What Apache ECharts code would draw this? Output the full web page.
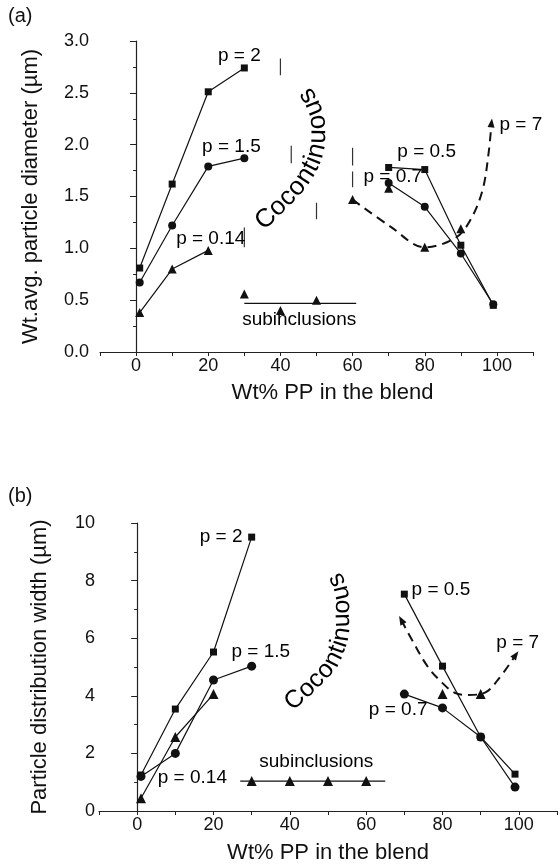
<!DOCTYPE html>
<html>
<head>
<meta charset="utf-8">
<script src="https://cdn.jsdelivr.net/npm/echarts@6/dist/echarts.min.js"></script>
<style>
html,body{margin:0;padding:0;background:#fff;}
#chart{width:560px;height:865px;}
</style>
</head>
<body>
<div id="chart"></div>
<script>
// ---------- data : panel (a) weight-average particle diameter ----------
const xTicks = [0, 20, 40, 60, 80, 100];
const p2A   = [[1,0.81],[10,1.62],[20,2.51],[30,2.74]];
const p15A  = [[1,0.67],[10,1.22],[20,1.79],[30,1.87]];
const p014A = [[1,0.38],[10,0.80],[20,0.98]];
const subA  = [[30,0.56],[40,0.40],[50,0.50]];
const subLineA = [[30,0.47],[61,0.47]];
const p05A  = [[70,1.78],[80,1.76],[90,1.03],[99,0.45]];
const p07A  = [[70,1.63],[80,1.40],[90,0.95],[99,0.46]];
const p7A   = [[60,1.47],[70,1.58],[80,1.01],[90,1.19]];
const p7TrendA = [[60,1.47],[70.5,1.21],[80,1.01],[88.5,1.10],[92.6,1.27],[96,1.56],[97.7,1.92],[98.5,2.21]];
const boundaryA = [
  [[30,1.20],[30,1.01]],
  [[40,2.83],[40,2.67]],
  [[43,1.99],[43,1.82]],
  [[50,1.44],[50,1.28]],
  [[60,1.97],[60,1.80]],
  [[60,1.74],[60,1.59]]
];
// ---------- data : panel (b) particle distribution width ----------
const p2B   = [[1,1.25],[10,3.54],[20,5.52],[30,9.51]];
const p15B  = [[1,1.20],[10,2.00],[20,4.55],[30,5.03]];
const p014B = [[1,0.44],[10,2.57],[20,4.06]];
const subB  = [[30,1.04],[40,1.04],[50,1.04],[60,1.04]];
const subLineB = [[27,1.04],[65,1.04]];
const p05B  = [[70,7.53],[80,5.03],[90,2.57],[99,1.28]];
const p07B  = [[70,4.06],[80,3.58],[90,2.57],[99,0.83]];
const p7B   = [[80,4.06],[90,4.06]];
const p7TrendB = [[69.2,6.63],[72.3,5.87],[76.2,5.0],[80,4.44],[83.2,4.1],[86.6,4.03],[91,4.1],[94.5,4.55],[99.2,5.42]];

// ---------- annotation texts ----------
const labelsA = [
  {text:'p = 2',    at:[22.7,2.86], align:'left'},
  {text:'p = 1.5',  at:[18.3,1.98], align:'left'},
  {text:'p = 0.14', at:[11.1,1.09], align:'left'},
  {text:'p = 0.5',  at:[72.4,1.93], align:'left'},
  {text:'p = 0.7',  at:[63.0,1.69], align:'left'},
  {text:'p = 7',    at:[100.7,2.19], align:'left'},
  {text:'subinclusions', at:[29.4,0.31], align:'left'}
];
const labelsB = [
  {text:'p = 2',    at:[27.6,9.51], align:'right'},
  {text:'p = 1.5',  at:[24.7,5.52], align:'left'},
  {text:'p = 0.14', at:[5.4,1.15], align:'left'},
  {text:'p = 0.5',  at:[71.9,7.67], align:'left'},
  {text:'p = 7',    at:[94.1,5.83], align:'left'},
  {text:'p = 0.7',  at:[60.7,3.51], align:'left'},
  {text:'subinclusions', at:[32.0,1.70], align:'left'}
];
const arcWord = 'Cocontinuous';
// pixel guide paths for the curved word (annotation layout)
const arcPathA = [[266,219],[282,203],[298,186],[311,166],[317,148],[318,130],[316,114],[309,98],[300,86],[292,78]];
const arcPathB = [[295,700],[309,687],[323,673],[332,662],[338,648],[342,633],[342,615],[342,597],[338,583],[332,572],[326,564]];

const FONT = "'Liberation Sans', Arial, Helvetica, sans-serif";
const INK = '#111';

function mkX(idx, gap, shift, lblMargin) {
  return {
    type:'value', gridIndex:idx, min:-10, max:110, interval:10,
    axisLine:{show:true, lineStyle:{color:'#222', width:1.2}},
    axisTick:{show:true, inside:false, length:4, lineStyle:{color:'#222', width:1}},
    splitLine:{show:false},
    axisLabel:{fontSize:18, color:INK, fontFamily:FONT, margin:lblMargin,
      formatter: v => xTicks.indexOf(v) >= 0 ? String(v) : ''},
    name:'Wt% PP in the blend', nameLocation:'middle', nameGap:gap,
    nameTextStyle:{fontSize:22, color:INK, fontFamily:FONT, padding:[0,0,0,shift]}
  };
}
function mkY(idx, max, interval, digits, name, gap, lblMargin) {
  return {
    type:'value', gridIndex:idx, min:0, max:max, interval:interval,
    axisLine:{show:true, lineStyle:{color:'#222', width:1.2}},
    axisTick:{show:true, inside:false, length:6, lineStyle:{color:'#222', width:1}},
    minorTick:{show:true, splitNumber:2, length:3, lineStyle:{color:'#222', width:1}},
    splitLine:{show:false},
    axisLabel:{fontSize:18, color:INK, fontFamily:FONT, margin:lblMargin,
      formatter: v => v.toFixed(digits)},
    name:name, nameLocation:'middle', nameGap:gap, nameRotate:90,
    nameTextStyle:{fontSize:22, color:INK, fontFamily:FONT}
  };
}
function ser(data, sym, size, gi, extra) {
  return Object.assign({
    type:'line', xAxisIndex:gi, yAxisIndex:gi, data:data,
    symbol:sym, symbolSize:size, showAllSymbol:true,
    lineStyle:{color:INK, width:1.2}, itemStyle:{color:INK, opacity:1},
    silent:true, z:3
  }, extra || {});
}
function scat(data, sym, size, gi) {
  return {type:'scatter', xAxisIndex:gi, yAxisIndex:gi, data:data, symbol:sym,
    symbolSize:size, itemStyle:{color:INK, opacity:1}, silent:true, z:4};
}
function trend(data, gi, startRot, endRot) {
  const d = data.map((p, i) => {
    if (i === data.length - 1) return {value:p, symbol:'triangle', symbolSize:[7,9], symbolRotate:endRot};
    if (i === 0 && startRot !== null) return {value:p, symbol:'triangle', symbolSize:[7,9], symbolRotate:startRot};
    return {value:p, symbol:'none'};
  });
  return {type:'line', xAxisIndex:gi, yAxisIndex:gi, data:d, smooth:0.35,
    showAllSymbol:true, lineStyle:{color:INK, width:2, type:[9,6]},
    itemStyle:{color:INK, opacity:1}, silent:true, z:2};
}
function labels(list, gi) {
  return {type:'scatter', xAxisIndex:gi, yAxisIndex:gi, symbolSize:1,
    itemStyle:{color:'rgba(0,0,0,0)', opacity:1}, silent:true, z:5,
    data: list.map(l => ({value:l.at, name:l.text,
      label:{show:true, position:'inside', formatter:l.text, align:l.align,
        verticalAlign:'middle', fontSize:19, color:'#000', opacity:1, fontFamily:FONT}}))};
}

const series = [
  ser(p2A,'rect',7,0), ser(p15A,'circle',8,0), ser(p014A,'triangle',9,0),
  scat(subA,'triangle',9,0), ser(subLineA,'none',0,0),
  ser(p05A,'rect',7,0), ser(p07A,'circle',8,0),
  scat(p7A,'triangle',9,0), trend(p7TrendA,0,null,-6),
  labels(labelsA,0),
  ser(p2B,'rect',7,1), ser(p15B,'circle',9,1), ser(p014B,'triangle',10,1),
  scat(subB,'triangle',10,1), ser(subLineB,'none',0,1),
  ser(p05B,'rect',7,1), ser(p07B,'circle',9,1),
  scat(p7B,'triangle',10,1), trend(p7TrendB,1,29,-36),
  labels(labelsB,1)
];
boundaryA.forEach(seg => series.push(ser(seg,'none',0,0,{lineStyle:{color:'#333', width:1.2}})));

// curved word placed along a smooth guide path
function pathText(pts, fontPx) {
  const dense = [];
  const n = pts.length;
  for (let i = 0; i < n - 1; i++) {
    const p0 = pts[Math.max(i - 1, 0)], p1 = pts[i], p2 = pts[i + 1], p3 = pts[Math.min(i + 2, n - 1)];
    for (let k = 0; k < 20; k++) {
      const t = k / 20, t2 = t * t, t3 = t2 * t;
      const f = j => 0.5 * ((2 * p1[j]) + (-p0[j] + p2[j]) * t + (2 * p0[j] - 5 * p1[j] + 4 * p2[j] - p3[j]) * t2 + (-p0[j] + 3 * p1[j] - 3 * p2[j] + p3[j]) * t3);
      dense.push([f(0), f(1)]);
    }
  }
  dense.push(pts[n - 1]);
  const cum = [0];
  for (let i = 1; i < dense.length; i++) {
    cum.push(cum[i - 1] + Math.hypot(dense[i][0] - dense[i - 1][0], dense[i][1] - dense[i - 1][1]));
  }
  function at(s) {
    let i = 1;
    while (i < dense.length - 1 && cum[i] < s) i++;
    const a = dense[i - 1], b = dense[i];
    const seg = cum[i] - cum[i - 1] || 1;
    const t = (s - cum[i - 1]) / seg;
    return {x: a[0] + (b[0] - a[0]) * t, y: a[1] + (b[1] - a[1]) * t, ang: Math.atan2(-(b[1] - a[1]), b[0] - a[0])};
  }
  const c = document.createElement('canvas').getContext('2d');
  c.font = fontPx + 'px ' + FONT;
  const widths = arcWord.split('').map(ch => c.measureText(ch).width);
  const els = [];
  let s = 0;
  for (let i = 0; i < arcWord.length; i++) {
    const centerDist = s + widths[i] / 2 - widths[0] / 2;
    const p = at(centerDist);
    els.push({type:'text', x: p.x, y: p.y, rotation: p.ang, silent:true, z:10,
      style:{text:arcWord[i], font: fontPx + 'px ' + FONT, fill:'#000',
        textAlign:'center', textVerticalAlign:'middle', align:'center', verticalAlign:'middle'}});
    s += widths[i];
  }
  return els;
}

const graphics = [
  {type:'text', left:8, top:6, silent:true, style:{text:'(a)', font:'20px ' + FONT, fill:INK}},
  {type:'text', left:8, top:486, silent:true, style:{text:'(b)', font:'20px ' + FONT, fill:INK}}
].concat(pathText(arcPathA, 26)).concat(pathText(arcPathB, 25));

const option = {
  animation:false,
  backgroundColor:'#fff',
  textStyle:{fontFamily:FONT},
  grid:[
    {left:100, top:41, width:433, height:311},
    {left:99, top:523, width:460, height:288}
  ],
  xAxis:[mkX(0, 30, 32, 5), mkX(1, 31, 0, 5)],
  yAxis:[
    mkY(0, 3, 0.5, 1, 'Wt.avg. particle diameter (µm)', 58, 11),
    mkY(1, 10, 2, 0, 'Particle distribution width (µm)', 48, 4)
  ],
  graphic: graphics,
  series: series
};
const chart = echarts.init(document.getElementById('chart'), null, {renderer:'canvas'});
chart.setOption(option);
</script>
</body>
</html>
